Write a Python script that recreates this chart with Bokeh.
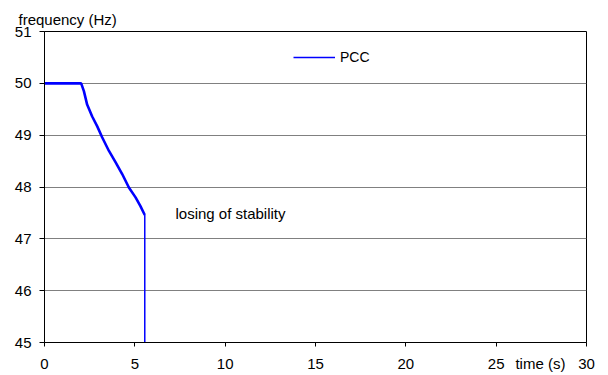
from bokeh.plotting import figure
from bokeh.models import Range1d, FixedTicker, Label, Legend, LegendItem, LinearAxis
from bokeh.embed import file_html
from bokeh.resources import INLINE

# PCC frequency (Hz) vs time (s)
t_pcc = [0.0, 2.03, 2.18, 2.36, 2.64, 2.92, 3.19, 3.56, 3.93, 4.30, 4.67, 5.04, 5.31, 5.55]
f_pcc = [50.0, 50.0, 49.85, 49.59, 49.36, 49.17, 48.96, 48.70, 48.48, 48.25, 47.99, 47.80, 47.63, 47.46]
t_drop = [5.55, 5.55]
f_drop = [47.46, 45.0]

x_ticks = [0, 5, 10, 15, 20, 25, 30]
y_ticks = [45, 46, 47, 48, 49, 50, 51]
x_title = "time (s)"
x_title_pos = 27.45
y_title = "frequency (Hz)"

FONT = "Liberation Sans"

p = figure(width=608, height=375, output_backend="svg", toolbar_location=None,
           x_range=Range1d(0, 30), y_range=Range1d(45, 51),
           title=y_title,
           min_border_left=44, min_border_right=22, min_border_top=31, min_border_bottom=33)
p.background_fill_color = "white"
p.border_fill_color = "white"
p.outline_line_color = "black"
p.outline_line_width = 1

p.title.align = "left"
p.title.offset = -26
p.title.standoff = 7
p.title.text_font = FONT
p.title.text_font_size = "15px"
p.title.text_font_style = "normal"
p.title.text_color = "black"

p.xgrid.grid_line_color = None
p.ygrid.grid_line_color = "#808080"
p.ygrid.grid_line_width = 1

# bottom axis: line + tick marks only (ticks given as minor ticks, so no labels)
xa = p.xaxis[0]
xa.ticker = FixedTicker(ticks=[], minor_ticks=x_ticks)
xa.axis_line_color = "black"
xa.major_tick_line_color = None
xa.major_tick_out = 0
xa.major_tick_in = 0
xa.minor_tick_line_color = "black"
xa.minor_tick_in = 0
xa.minor_tick_out = 4
xa.major_label_standoff = 0

# second bottom axis: tick labels plus the axis title between 25 and 30
xl = LinearAxis(ticker=FixedTicker(ticks=x_ticks + [x_title_pos]),
                major_label_overrides={x_title_pos: x_title},
                axis_line_color=None, major_tick_line_color=None, minor_tick_line_color=None,
                major_tick_in=0, major_tick_out=0, major_label_standoff=8,
                major_label_text_font=FONT, major_label_text_font_size="15px",
                major_label_text_color="black")
p.add_layout(xl, "below")

ya = p.yaxis[0]
ya.ticker = FixedTicker(ticks=y_ticks)
ya.axis_line_color = "black"
ya.major_tick_line_color = "black"
ya.minor_tick_line_color = None
ya.major_tick_in = 0
ya.major_tick_out = 5
ya.major_label_standoff = 8
ya.major_label_text_font = FONT
ya.major_label_text_font_size = "15px"
ya.major_label_text_color = "black"

r1 = p.line(t_pcc, f_pcc, line_color="#0000FF", line_width=2.6)
r2 = p.line(t_drop, f_drop, line_color="#0000FF", line_width=1.5)

legend = Legend(items=[LegendItem(label="PCC", renderers=[r2])],
                location=(249, 277), orientation="vertical",
                border_line_color=None, background_fill_alpha=0,
                padding=0, margin=0, spacing=0,
                glyph_width=42, glyph_height=16, label_height=16,
                label_standoff=5, label_text_font=FONT, label_text_font_size="14px",
                label_text_color="black")
p.add_layout(legend)

p.add_layout(Label(x=7.25, y=47.49, text="losing of stability", text_font=FONT,
                   text_font_size="15px", text_align="left", text_baseline="middle",
                   text_color="black"))

open("out.html", "w").write(file_html(p, INLINE))
